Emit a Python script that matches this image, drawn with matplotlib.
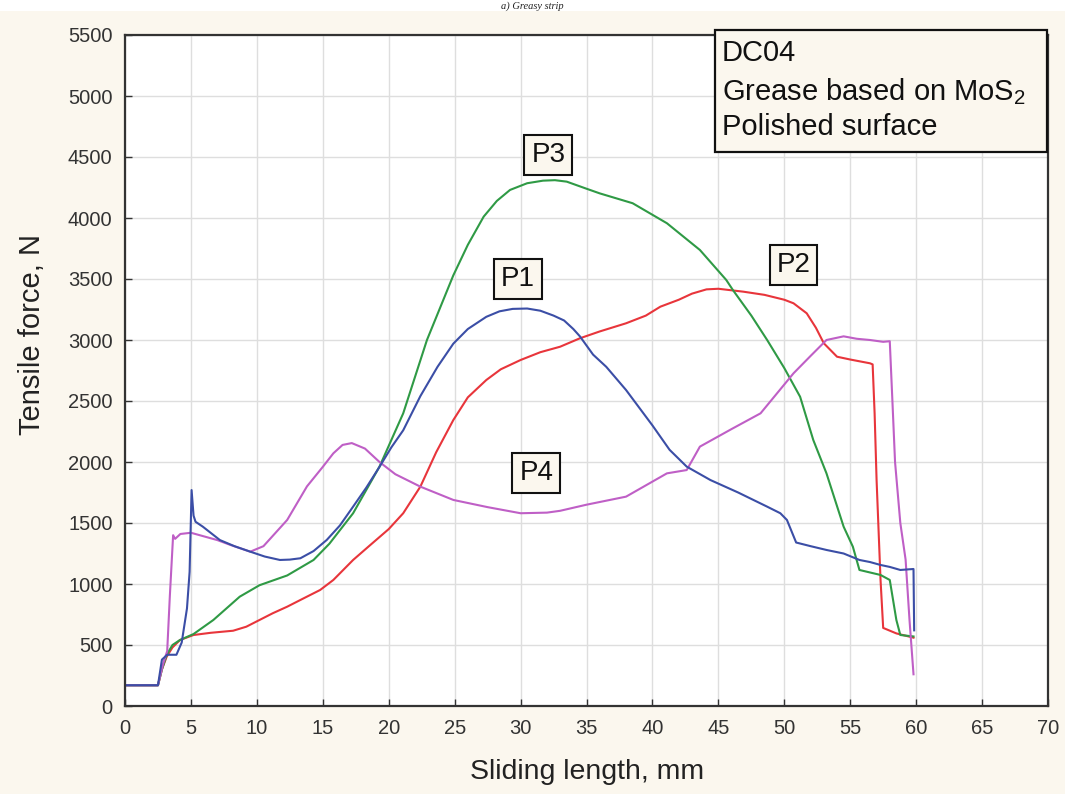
import matplotlib
matplotlib.use("Agg")
import matplotlib.pyplot as plt
from matplotlib.patches import Rectangle

plt.rcParams['font.family'] = ['Liberation Sans', 'DejaVu Sans']
plt.rcParams['mathtext.fontset'] = 'custom'
plt.rcParams['mathtext.rm'] = 'Liberation Sans'
plt.rcParams['mathtext.it'] = 'Liberation Sans:italic'

# force vs sliding length, one curve per test
p1_x = [0, 2.5, 2.8, 3.2, 3.9, 4.3, 4.7, 4.9, 5.05, 5.2, 5.35, 5.9, 7.2, 8.3, 9.5, 10.6, 11.75,
        12.5, 13.3, 14.3, 15.3, 16.3, 17.3, 18.3, 19.3, 20.2, 21.1, 22.4, 23.7, 24.9, 26, 27.4,
        28.4, 29.4, 30.5, 31.5, 32.5, 33.3, 34, 34.5, 35.5, 36.5, 38, 40, 41.3, 42.6, 44.4, 46.5,
        48.7, 49.7, 50.2, 50.9, 52, 53.2, 54.5, 55.7, 56.5, 57.3, 58, 58.8, 59.8, 59.85]
p1_y = [170, 170, 380, 420, 420, 520, 800, 1100, 1770, 1560, 1510, 1470, 1360, 1310, 1265, 1225, 1197,
        1200, 1211, 1270, 1361, 1480, 1634, 1790, 1960, 2120, 2260, 2540, 2780, 2970, 3090, 3190,
        3235, 3255, 3258, 3240, 3200, 3160, 3090, 3030, 2880, 2780, 2590, 2300, 2100, 1962, 1852, 1750,
        1634, 1580, 1525, 1340, 1310, 1279, 1250, 1197, 1180, 1156, 1140, 1115, 1123, 620]

p2_x = [0, 2.5, 2.8, 3.16, 3.6, 4.17, 5.2, 6.5, 8.2, 9.2, 10.2, 11.2, 12.3, 13.5, 14.8, 15.8, 17.3,
        18.5, 20, 21.1, 22.4, 23.6, 24.9, 26, 27.4, 28.5, 30, 31.5, 33, 34.5, 36, 38, 39.5, 40.6,
        42, 43, 44.1, 45, 46.9, 48.5, 50, 50.7, 51.7, 52.4, 53, 54, 55, 56.5, 56.7, 56.85, 57.0,
        57.3, 57.5, 58.5, 59.8]
p2_y = [170, 170, 300, 404, 480, 541, 582, 600, 617, 650, 705, 760, 814, 880, 951, 1033, 1197,
        1310, 1450, 1580, 1798, 2080, 2344, 2530, 2672, 2760, 2836, 2900, 2945, 3014, 3070, 3137, 3200, 3273,
        3330, 3380, 3415, 3420, 3396, 3370, 3330, 3301, 3219, 3100, 2973, 2863, 2840, 2809, 2800, 2400, 1852,
        1033, 640, 595, 560]

p3_x = [0, 2.5, 2.8, 3.16, 3.6, 4.17, 5.2, 6.7, 8.7, 10.2, 12.3, 14.3, 15.5, 17.3, 19.3, 21.1, 22.9,
        24.9, 26, 27.2, 28.2, 29.2, 30.5, 31.7, 32.6, 33.5, 35, 36, 38.5, 41.1, 43.6, 45.6, 46.1, 47.5,
        48.7, 50, 51.2, 52.2, 53.2, 54.5, 55.2, 55.7, 57.3, 58.0, 58.5, 58.8, 59.8]
p3_y = [170, 170, 300, 420, 500, 541, 590, 705, 896, 990, 1070, 1197, 1330, 1580, 1962, 2399, 3000,
        3530, 3780, 4011, 4140, 4230, 4285, 4306, 4310, 4298, 4240, 4202, 4121, 3957, 3738, 3492, 3410, 3200,
        3000, 2770, 2535, 2180, 1907, 1470, 1306, 1115, 1074, 1033, 705, 582, 570]

p4_x = [0, 2.5, 2.9, 3.2, 3.4, 3.65, 3.8, 4.2, 5, 6, 7, 8, 9.5, 10.5, 12.3, 13.8, 15, 15.8, 16.5,
        17.2, 18.2, 19.3, 20.5, 22.4, 24.9, 27.5, 30, 32, 33, 35, 38, 41.1, 42.6, 43.6, 46, 48.2,
        50.7, 52, 53.2, 54.5, 55.5, 56.5, 57.5, 58.0, 58.2, 58.4, 58.8, 59.2, 59.5, 59.8]
p4_y = [170, 170, 350, 450, 900, 1400, 1370, 1410, 1420, 1390, 1360, 1320, 1265, 1310, 1525, 1800, 1960, 2071, 2140,
        2155, 2110, 2000, 1900, 1798, 1689, 1630, 1580, 1585, 1600, 1650, 1716, 1907, 1934, 2126, 2270, 2399,
        2727, 2870, 3000, 3030, 3010, 3000, 2985, 2990, 2500, 2000, 1500, 1200, 700, 260]

labels = ['P1', 'P2', 'P3', 'P4']
label_x = [29.8, 50.7, 32.1, 31.2]
label_y = [3500, 3615, 4517, 1910]

cream = '#fbf7ee'

fig = plt.figure(figsize=(10.65, 7.94), dpi=100, facecolor='white')
fig.patches.append(Rectangle((0, 0), 1, 1 - 11 / 794, transform=fig.transFigure,
                             facecolor=cream, edgecolor='none', zorder=-10))
fig.text(0.50, 1 - 1 / 794, 'a) Greasy strip', family='Liberation Serif', style='italic',
         fontsize=7.5, ha='center', va='top', color='#222222')

ax = fig.add_axes([125 / 1065, 1 - 706 / 794, 923 / 1065, 671 / 794])
ax.set_facecolor('white')

ax.plot(p2_x, p2_y, color='#e8353b', lw=1.5)
ax.plot(p3_x, p3_y, color='#2f9a45', lw=1.5)
ax.plot(p4_x, p4_y, color='#bf5fc6', lw=1.5)
ax.plot(p1_x, p1_y, color='#3b4ea6', lw=1.5)

ax.set_xlim(0, 70)
ax.set_ylim(0, 5500)
ax.set_xticks(range(0, 71, 5))
ax.set_yticks(range(0, 5501, 500))
ax.grid(True, color='#dedede', lw=1)
ax.set_axisbelow(True)
ax.tick_params(direction='in', length=5, width=1, color='#333333', labelsize=14.5,
               labelcolor='#333333')
ax.tick_params(axis='x', pad=9)
ax.tick_params(axis='y', pad=9)
for s in ax.spines.values():
    s.set_color('#333333')
    s.set_linewidth(1.6)

for t, x, y in zip(labels, label_x, label_y):
    ax.text(x, y, t, fontsize=20, ha='center', va='center', color='#111111',
            bbox=dict(boxstyle='square,pad=0.25', facecolor=cream, edgecolor='#111111', lw=1.5))

fig.text(587 / 1065, 1 - 772 / 794, 'Sliding length, mm', fontsize=20.5,
         ha='center', va='center', color='#222222')
fig.text(32 / 1065, 1 - 334 / 794, 'Tensile force, N', fontsize=21, rotation=90,
         ha='center', va='center', color='#222222')

# description box in the top right corner
fig.patches.append(Rectangle((715 / 1065, 1 - 152 / 794), 332 / 1065, 122 / 794,
                             transform=fig.transFigure, facecolor=cream,
                             edgecolor='#111111', lw=1.6, zorder=5))
box_lines = ['DC04', 'Grease based on MoS$_2$', 'Polished surface']
box_y = [53, 92, 127]
for t, y in zip(box_lines, box_y):
    fig.text(722 / 1065, 1 - y / 794, t, fontsize=21, ha='left', va='center',
             color='#111111', zorder=6)

fig.savefig('out.png', dpi=100, facecolor=fig.get_facecolor())
